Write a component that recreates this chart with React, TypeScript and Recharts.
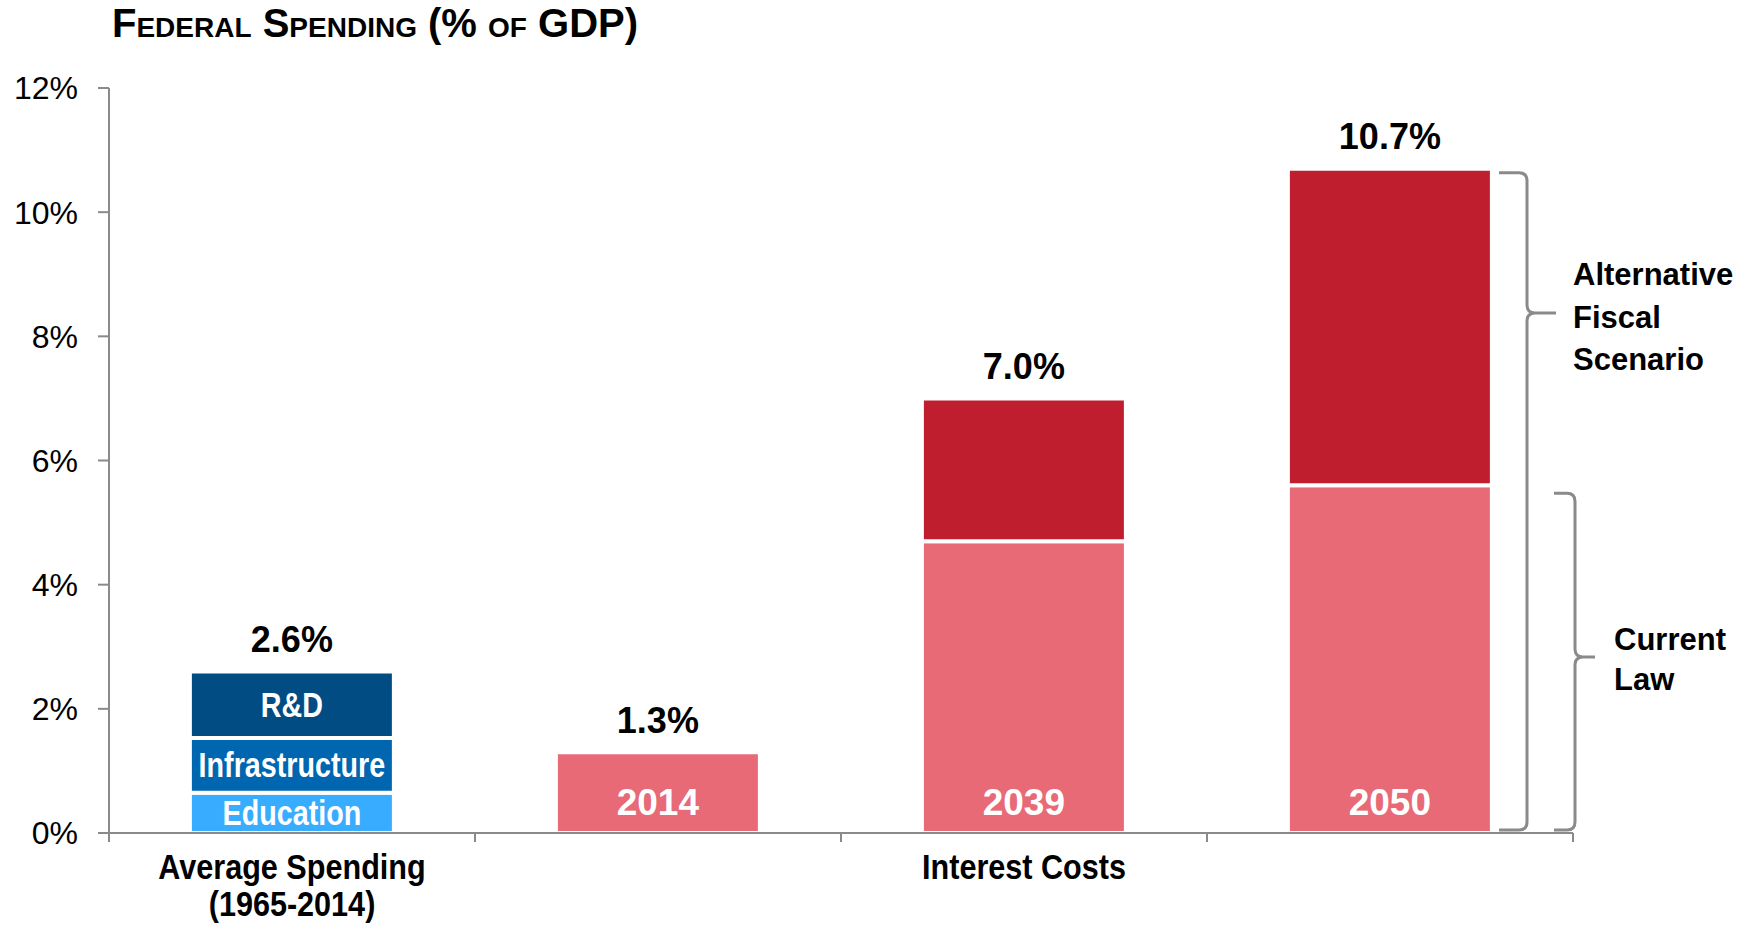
import React from 'react';
import { BarChart, Bar, XAxis, YAxis, LabelList } from 'recharts';

// categories along the x axis
const categories = ['avg', '2014', '2039', '2050'];
const xAxisLabels = [['Average Spending', '(1965-2014)'], [], ['Interest Costs'], []];
const yearLabels = ['', '2014', '2039', '2050'];

// % of GDP
const education = [0.65, 0, 0, 0];
const infrastructure = [0.88, 0, 0, 0];
const researchDev = [1.07, 0, 0, 0];
const currentLaw = [0, 1.3, 4.7, 5.6];
const altScenario = [0, 0, 2.3, 5.1];
const totalLabels = ['2.6%', '1.3%', '7.0%', '10.7%'];
const yTicks = [0, 2, 4, 6, 8, 10, 12];

const seriesKeys = ['edu', 'infra', 'rnd', 'current', 'alt'];

const data = categories.map((c, i) => {
  const row: any = {
    cat: c,
    edu: education[i],
    infra: infrastructure[i],
    rnd: researchDev[i],
    current: currentLaw[i],
    alt: altScenario[i],
    total: totalLabels[i],
    year: yearLabels[i],
  };
  // the series on top of the stack carries the total label
  seriesKeys.forEach((s) => {
    if (row[s] > 0) row.top = s;
  });
  return row;
});

const W = 1754;
const H = 925;
const TOP = 88;
const BOTTOM = 833;
const LEFT = 109;
const RIGHT = 1573;
const BAND = (RIGHT - LEFT) / categories.length;
const AXIS = '#8a8a8a';
const SANS = "'Liberation Sans', Arial, sans-serif";

const yPx = (v: number) => TOP + ((12 - v) / 12) * (BOTTOM - TOP);

// no condensed face installed, so squeeze horizontally
const Narrow = ({ x, y, size, fill, squeeze = 0.82, children }: any) => (
  <text
    transform={`translate(${x},${y}) scale(${squeeze},1)`}
    textAnchor="middle"
    dominantBaseline="central"
    fontFamily={SANS}
    fontWeight="bold"
    fontSize={size}
    fill={fill}
  >
    {children}
  </text>
);

const XTick = (props: any) => {
  const { x, payload } = props;
  const idx = payload?.index ?? props.index ?? 0;
  const lines = xAxisLabels[idx] || [];
  return (
    <g>
      {idx === 0 && (
        <line x1={x - BAND / 2} x2={x - BAND / 2} y1={BOTTOM} y2={BOTTOM + 9} stroke={AXIS} strokeWidth={2} />
      )}
      <line x1={x + BAND / 2} x2={x + BAND / 2} y1={BOTTOM} y2={BOTTOM + 9} stroke={AXIS} strokeWidth={2} />
      {lines.map((l, i) => (
        <Narrow key={i} x={x} y={BOTTOM + 34 + i * 37} size={36} squeeze={0.85} fill="#000">
          {l}
        </Narrow>
      ))}
    </g>
  );
};

const segmentLabel = (name: string) => (props: any) => {
  const { x, y, width, height, value } = props;
  if (!value) return null;
  return (
    <Narrow x={x + width / 2} y={y + height / 2} size={35} fill="#fff">
      {name}
    </Narrow>
  );
};

const YearLabel = (props: any) => {
  const { x, y, width, height, value } = props;
  if (!value) return null;
  return (
    <text
      x={x + width / 2}
      y={y + height - 31}
      textAnchor="middle"
      dominantBaseline="central"
      fontFamily={SANS}
      fontWeight="bold"
      fontSize={37}
      fill="#fff"
    >
      {value}
    </text>
  );
};

const TotalLabel = (props: any) => {
  const { x, y, width, value } = props;
  if (!value) return null;
  return (
    <text
      x={x + width / 2}
      y={y - 32}
      textAnchor="middle"
      dominantBaseline="central"
      fontFamily={SANS}
      fontWeight="bold"
      fontSize={36}
      fill="#000"
    >
      {value}
    </text>
  );
};

const totalFor = (key: string) => (d: any) => (d.top === key ? d.total : '');

const brace = (xl: number, xv: number, xt: number, top: number, tip: number, bot: number) => {
  const r = 8;
  return (
    `M ${xl} ${top} L ${xv - r} ${top} Q ${xv} ${top} ${xv} ${top + r} L ${xv} ${tip - r} ` +
    `Q ${xv} ${tip} ${xv + r} ${tip} L ${xt} ${tip} M ${xv + r} ${tip} Q ${xv} ${tip} ${xv} ${tip + r} ` +
    `L ${xv} ${bot - r} Q ${xv} ${bot} ${xv - r} ${bot} L ${xl} ${bot}`
  );
};

export default function App() {
  return (
    <div style={{ position: 'absolute', left: 0, top: 0, width: W, height: H, background: '#fff' }}>
      <BarChart
        width={W}
        height={H}
        data={data}
        margin={{ top: TOP, right: W - RIGHT, bottom: 0, left: 0 }}
        barCategoryGap="22.1%"
      >
        <XAxis
          dataKey="cat"
          height={H - BOTTOM}
          axisLine={{ stroke: AXIS, strokeWidth: 2 }}
          tickLine={false}
          tick={<XTick />}
          interval={0}
        />
        <YAxis
          width={LEFT}
          domain={[0, 12]}
          ticks={yTicks}
          tickFormatter={(v) => `${v}%`}
          axisLine={{ stroke: AXIS, strokeWidth: 2 }}
          tickLine={{ stroke: AXIS, strokeWidth: 2 }}
          tickSize={11}
          tickMargin={20}
          tick={{ fill: '#000', fontSize: 32, fontFamily: SANS }}
        />
        <Bar dataKey="edu" stackId="s" fill="#38acff" stroke="#fff" strokeWidth={4} isAnimationActive={false}>
          <LabelList dataKey="edu" content={segmentLabel('Education')} />
          <LabelList dataKey={totalFor('edu')} content={<TotalLabel />} />
        </Bar>
        <Bar dataKey="infra" stackId="s" fill="#0066b0" stroke="#fff" strokeWidth={4} isAnimationActive={false}>
          <LabelList dataKey="infra" content={segmentLabel('Infrastructure')} />
          <LabelList dataKey={totalFor('infra')} content={<TotalLabel />} />
        </Bar>
        <Bar dataKey="rnd" stackId="s" fill="#024c84" stroke="#fff" strokeWidth={4} isAnimationActive={false}>
          <LabelList dataKey="rnd" content={segmentLabel('R&D')} />
          <LabelList dataKey={totalFor('rnd')} content={<TotalLabel />} />
        </Bar>
        <Bar dataKey="current" stackId="s" fill="#e76a76" stroke="#fff" strokeWidth={4} isAnimationActive={false}>
          <LabelList dataKey="year" content={<YearLabel />} />
          <LabelList dataKey={totalFor('current')} content={<TotalLabel />} />
        </Bar>
        <Bar dataKey="alt" stackId="s" fill="#be1e2e" stroke="#fff" strokeWidth={4} isAnimationActive={false}>
          <LabelList dataKey={totalFor('alt')} content={<TotalLabel />} />
        </Bar>
      </BarChart>

      <svg
        width={W}
        height={H}
        style={{ position: 'absolute', left: 0, top: 0, pointerEvents: 'none' }}
      >
        <text x={112} y={37} fontFamily={SANS} fontWeight="bold" fontSize={40} style={{ fontVariant: 'small-caps' }} fill="#000">
          Federal Spending (% of GDP)
        </text>
        <path d={brace(1499, 1527, 1556, yPx(10.7) + 4, 313, BOTTOM - 3)} fill="none" stroke={AXIS} strokeWidth={3} />
        <path d={brace(1554, 1575, 1595, yPx(5.6) + 8, 657, BOTTOM - 3)} fill="none" stroke={AXIS} strokeWidth={3} />
        <g fontFamily={SANS} fontWeight="bold" fontSize={31} fill="#000">
          <text x={1573} y={274} dominantBaseline="central">Alternative</text>
          <text x={1573} y={317} dominantBaseline="central">Fiscal</text>
          <text x={1573} y={359} dominantBaseline="central">Scenario</text>
          <text x={1614} y={639} dominantBaseline="central">Current</text>
          <text x={1614} y={679} dominantBaseline="central">Law</text>
        </g>
      </svg>
    </div>
  );
}
